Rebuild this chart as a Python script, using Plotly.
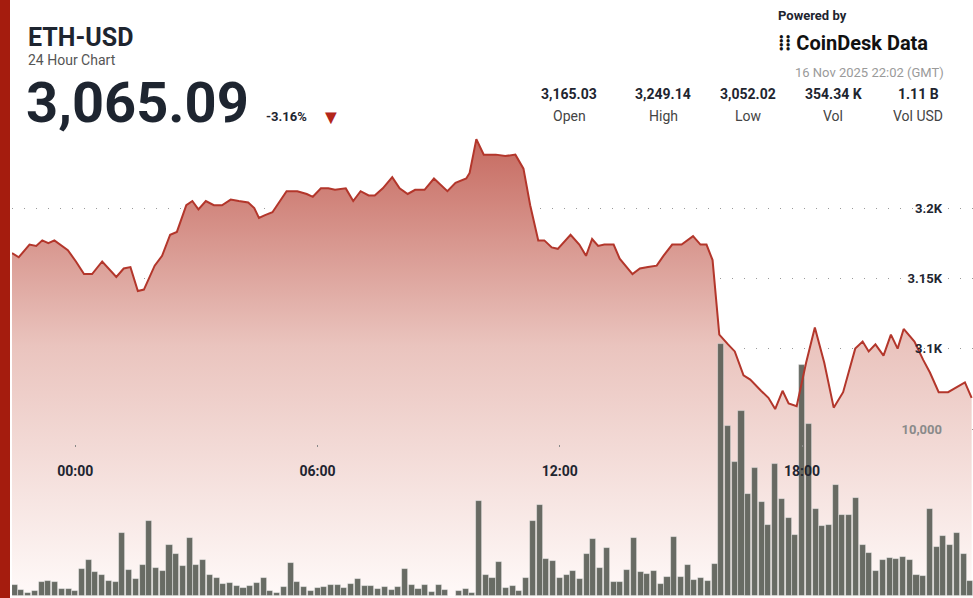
import datetime as dt
import plotly.graph_objects as go

# price points: minutes after 15 Nov 22:26 (GMT), price in USD
price_min = [0, 10, 26, 36, 45, 54, 63, 74, 83, 95, 107, 119, 134, 155, 166, 176, 187, 196, 212, 223,
             235, 245, 259, 268, 277, 288, 300, 312, 325, 337, 351, 360, 367, 376, 387, 408, 424, 438, 447, 459,
             470, 480, 496, 507, 518, 530, 539, 551, 565, 576, 588, 599, 613, 627, 638, 647, 659, 675, 680, 690,
             701, 719, 733, 748, 760, 770, 782, 791, 802, 811, 830, 843, 853, 862, 871, 880, 894, 903, 922, 933,
             945, 958, 968, 981, 995, 1012, 1023, 1032, 1041, 1051, 1064, 1074, 1087, 1097, 1113, 1124, 1134, 1145, 1154, 1166,
             1180, 1193, 1207, 1221, 1235, 1253, 1264, 1273, 1283, 1295, 1306, 1316, 1325, 1341, 1354, 1364, 1377, 1391, 1416, 1426]
price = [3168, 3165, 3174, 3173, 3177, 3175, 3177, 3173, 3170, 3162, 3153, 3153, 3162, 3151, 3157, 3158, 3141, 3142, 3159, 3166,
         3181, 3183, 3202, 3205, 3199, 3205, 3202, 3202, 3206, 3205, 3204, 3200, 3193, 3195, 3197, 3212, 3212, 3210, 3208, 3214,
         3214, 3213, 3214, 3205, 3212, 3209, 3209, 3214, 3222, 3214, 3210, 3213, 3213, 3221, 3216, 3212, 3218, 3221, 3225, 3249,
         3238, 3238, 3237, 3238, 3228, 3202, 3177, 3177, 3172, 3171, 3181, 3174, 3166, 3178, 3173, 3174, 3174, 3164, 3153, 3157,
         3158, 3159, 3166, 3174, 3174, 3180, 3174, 3174, 3163, 3110, 3103, 3098, 3081, 3078, 3070, 3065, 3057, 3070, 3061, 3059,
         3090, 3115, 3090, 3058, 3069, 3100, 3105, 3098, 3103, 3095, 3110, 3100, 3114, 3105, 3092, 3083, 3069, 3069, 3076, 3065]

# 10-minute volume bars starting 15 Nov 22:30
volume = [660, 360, 180, 300, 840, 900, 840, 420, 420, 300,
          1620, 2160, 1440, 1260, 900, 840, 3780, 1560, 1020, 1860,
          4500, 1680, 1500, 3060, 2520, 1800, 3480, 1860, 2160, 1260,
          1080, 720, 780, 600, 480, 600, 780, 1080, 300, 180,
          540, 1980, 840, 540, 300, 480, 540, 660, 660, 480,
          720, 1020, 600, 600, 420, 540, 360, 540, 1620, 660,
          420, 660, 240, 660, 360, 0, 300, 420, 180, 5700,
          1260, 1080, 2040, 480, 600, 300, 1080, 4500, 5460, 2220,
          2100, 1080, 1260, 1500, 1020, 2520, 3420, 1680, 2880, 840,
          840, 1560, 3480, 1440, 1320, 1500, 720, 1140, 3540, 1140,
          1860, 960, 1080, 900, 1920, 15120, 10200, 8040, 11100, 6120,
          7680, 5640, 4260, 7920, 5820, 4680, 3660, 13860, 10320, 5220,
          4200, 4260, 6660, 4860, 4860, 5880, 3060, 2580, 1500, 2160,
          2280, 2220, 2340, 2160, 1260, 1200, 5220, 2940, 3600, 3060,
          3780, 2520, 900]

stats_val = ["3,165.03", "3,249.14", "3,052.02", "354.34 K", "1.11 B"]
stats_lab = ["Open", "High", "Low", "Vol", "Vol USD"]

t0 = dt.datetime(2025, 11, 15, 22, 26)
px_t = [t0 + dt.timedelta(minutes=m) for m in price_min]
bar_t = [dt.datetime(2025, 11, 15, 22, 30) + dt.timedelta(minutes=10 * i) for i in range(len(volume))]
t_end = t0 + dt.timedelta(minutes=1428)

P_LO, P_HI = 2922.6, 3348
FONT = "Roboto"
RED = "#b3362b"

fig = go.Figure()
fig.add_trace(go.Scatter(x=px_t, y=[P_LO] * len(px_t), mode="lines", line=dict(width=0),
                         hoverinfo="skip", showlegend=False))
fig.add_trace(go.Scatter(x=px_t, y=price, mode="lines", line=dict(width=0), fill="tonexty",
                         fillgradient=dict(type="vertical",
                                           colorscale=[[0, "rgba(255,250,249,1)"], [0.55, "rgba(234,196,190,1)"],
                                                       [1, "rgba(198,106,96,1)"]]),
                         showlegend=False))
fig.add_trace(go.Bar(x=bar_t, y=volume, yaxis="y2", width=9 * 60 * 1000,
                     marker=dict(color="rgba(88,92,84,0.9)", line=dict(color="rgba(255,255,255,0.5)", width=0.8)),
                     showlegend=False))
fig.add_trace(go.Scatter(x=px_t, y=price, yaxis="y3", mode="lines",
                         line=dict(color=RED, width=2), showlegend=False))

grid = dict(showgrid=True, gridcolor="#9a9a9a", griddash="1px,11px", gridwidth=1, zeroline=False,
            showline=False, side="right", ticklabelposition="inside", ticklabelstandoff=28)
fig.update_layout(
    width=973, height=598, margin=dict(l=12, r=0, t=0, b=0),
    paper_bgcolor="white", plot_bgcolor="white", bargap=0,
    xaxis=dict(type="date", range=[t0, t_end], showgrid=False, zeroline=False,
               tickvals=[dt.datetime(2025, 11, 16, h) for h in (0, 6, 12, 18)],
               ticktext=["00:00", "06:00", "12:00", "18:00"],
               anchor="free", position=1 - 444 / 598, ticks="outside", ticklen=2, tickcolor="#888",
               ticklabelstandoff=12,
               tickfont=dict(family=FONT, size=14, color="#1e2530", weight="bold"), showline=False),
    yaxis=dict(range=[P_LO, P_HI], tickvals=[3100, 3150, 3200], ticktext=["3.1K", "3.15K", "3.2K"],
               tickfont=dict(family=FONT, size=13, color="#1e2530", weight="bold"), **grid),
    yaxis2=dict(range=[-119, 35700], overlaying="y", tickvals=[10000], ticktext=["10,000"],
                tickfont=dict(family=FONT, size=13, color="#8a8a8a", weight="bold"), **grid),
    yaxis3=dict(range=[P_LO, P_HI], overlaying="y", visible=False),
)

fig.add_shape(type="rect", xref="paper", yref="paper", x0=-12 / 961, x1=-2 / 961, y0=0, y1=1,
              fillcolor="#a51c0e", line_width=0)


def px(x):
    return (x - 12) / 961


def py(y):
    return 1 - y / 598


def note(x, y, text, size, color="#1e2530", bold=False, xanchor="left"):
    fig.add_annotation(x=px(x), y=py(y), xref="paper", yref="paper", text=text, showarrow=False,
                       xanchor=xanchor, yanchor="middle",
                       font=dict(family=FONT, size=size, color=color, weight="bold" if bold else "normal"))


note(26, 38, "ETH-USD", 25, bold=True)
note(26, 60, "24 Hour Chart", 14, color="#555")
note(24, 103, "3,065.09", 56, bold=True)
note(264, 117, "-3.16%", 13, bold=True)
note(319, 117, "▼", 20, color="#b3261a")
note(776, 16, "Powered by", 13, bold=True)
note(776, 43, "⁞⁞ CoinDesk Data", 20, color="#111", bold=True)
note(946, 72, "16 Nov 2025 22:02 (GMT)", 13, color="#9a9a9a", xanchor="right")
for cx, v, lab in zip([569, 663, 748, 833, 918], stats_val, stats_lab):
    note(cx, 94, v, 14, bold=True, xanchor="center")
    note(cx, 116, lab, 14, color="#444", xanchor="center")

fig.write_html("out.html", config={"displayModeBar": False},
               post_script="document.body.style.margin='0';document.body.style.overflow='hidden';")
